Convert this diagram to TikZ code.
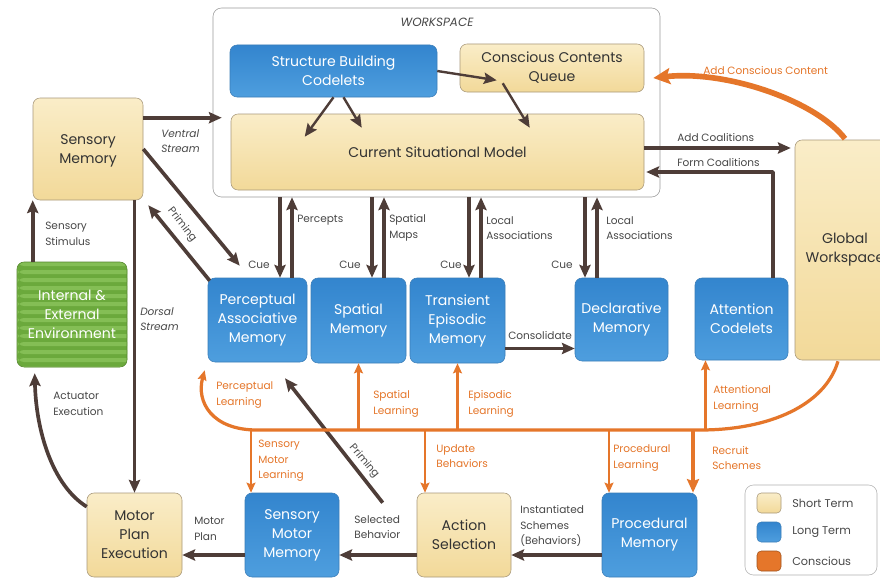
\documentclass[tikz,border=0pt]{standalone}
\usepackage{fontspec}
\setmainfont{Poppins}
\usetikzlibrary{arrows.meta,calc}

\definecolor{arrowC}{HTML}{4E3D38}
\definecolor{orangeC}{HTML}{E5762A}
\definecolor{tanL}{HTML}{FAEDC8}
\definecolor{tanD}{HTML}{F2D999}
\definecolor{tanB}{HTML}{A8987A}
\definecolor{blueL}{HTML}{4E9EDE}
\definecolor{blueD}{HTML}{3385CE}
\definecolor{blueB}{HTML}{3A7DB8}
\definecolor{greenL}{HTML}{84BE55}
\definecolor{greenD}{HTML}{6BA93C}
\definecolor{textC}{HTML}{484848}

\def\px{0.025cm}
\newcommand\boxfont{\fontsize{10}{13.5}\selectfont}
\newcommand\lblfont{\fontsize{7.5}{11}\selectfont}

\tikzset{
	sz/.style 2 args={minimum width=#1*\px,minimum height=#2*\px},
	stm/.style={draw=tanB,top color=tanL,bottom color=tanD,rounded corners=5pt,
		text=black!80,font=\boxfont,align=center,inner sep=0pt},
	ltm/.style={draw=blueB,top color=blueD,bottom color=blueL,rounded corners=5pt,
		text=white,font=\boxfont,align=center,inner sep=0pt},
	arr/.style={draw=arrowC,line width=2.6pt,-{Stealth[length=3.2mm,width=2.8mm,inset=0.5mm]}},
	arrs/.style={arr,line width=1.7pt},
	oarr/.style={draw=orangeC,line width=1.6pt,-{Stealth[length=2.5mm,width=2.2mm,inset=0.4mm]}},
	lbl/.style={font=\lblfont,text=textC,align=left,anchor=west,inner sep=0pt},
	olbl/.style={lbl,text=orangeC}
}

\begin{document}
\begin{tikzpicture}[x=\px,y=-\px,join=round]
	\useasboundingbox[fill=white] (0,0) rectangle (880,578);
	\clip (0,0) rectangle (880,578);
	% workspace
	\node[draw=black!40,fill=white,rounded corners=6pt,sz={447}{189}] (ws) at (436.5,102.5) {};
	\node[font=\fontsize{8.5}{10}\selectfont\itshape,text=textC] (wsT) at (437,22) {WORKSPACE};
	\node[ltm,sz={207}{52}] (sbc) at (333.5,71) {Structure Building\\Codelets};
	\node[stm,sz={184}{48}] (ccq) at (552,68) {Conscious Contents\\Queue};
	\node[stm,sz={413}{76}] (csm) at (437.5,152) {Current Situational Model};
	% modules
	\node[stm,sz={110}{102}] (sm) at (88,149) {\\[-4pt]Sensory\\Memory};
	\node[draw=greenD!80!black,fill=greenD,rounded corners=5pt,sz={110}{105},text=white,
		font=\boxfont,align=center,inner sep=0pt,
		path picture={\foreach \k in {0,...,14}
			\fill[greenL] ($(path picture bounding box.north west)+(0,\k*8)$) rectangle ++(120,4);}]
		(env) at (72,314.5) {Internal \&\\External\\Environment};
	\node[ltm,sz={99}{84}] (pam) at (257.5,320) {Perceptual\\Associative\\Memory};
	\node[ltm,sz={95}{85}] (spm) at (358.5,320.5) {Spatial\\Memory};
	\node[ltm,sz={95}{85}] (tem) at (457.5,320.5) {Transient\\Episodic\\Memory};
	\node[ltm,sz={93}{83}] (dm) at (621.5,319.5) {Declarative\\Memory};
	\node[ltm,sz={93}{82}] (ac) at (741.5,319) {Attention\\Codelets};
	\node[stm,sz={100}{220}] (gw) at (845,250) {Global\\Workspace};
	\node[stm,sz={95}{84}] (mpe) at (134.5,535) {Motor\\Plan\\Execution};
	\node[ltm,sz={94}{84}] (smm) at (292,535) {Sensory\\Motor\\Memory};
	\node[stm,sz={94}{84}] (as) at (464,535) {Action\\Selection};
	\node[ltm,sz={95}{84}] (pm) at (649.5,535) {Procedural\\Memory};
	% inside the workspace
	\draw[arrs] (sbc.east) -- ($(ccq.south west)+(37,-12)$);
	\draw[arrs] (sbc.south) -- ($(csm.north west)+(74,23)$);
	\draw[arrs] ($(sbc.south)+(10,0)$) -- ($(csm.north west)+(131,14)$);
	\draw[arrs] ($(ccq.south west)+(43,-9)$) -- ($(csm.north west)+(299,14)$);
	% sensory side
	\draw[arr] ($(sm.north east)+(0,20)$) coordinate (v0) -- ($(v0 -| ws.west)+(9,0)$);
	\draw[arr] (sm.east) -- ($(pam.north west)+(32,-12)$);
	\draw[arr] ($(pam.north west)+(2,3)$) -- ($(sm.south east)+(5,5)$);
	\draw[arr] (mpe.north |- sm.south) -- (mpe.north);
	\draw[arr] (env.north -| sm.south west) -- (sm.south west);
	\draw[arr] ($(mpe.north west)+(0,14)$) .. controls (52,485) and (36,430) .. ($(env.south west)+(18,6)$);
	% cues and retrievals
	\foreach \m/\a/\b in {pam/22.5/34.5,spm/13.5/25.5,tem/11.5/23.5,dm/-36.5/-24.5}{
		\draw[arr] ($(\m.north)+(\a,0)$) coordinate (c\m) (c\m |- ws.south) -- (c\m);
		\draw[arr] ($(\m.north)+(\b,0)$) coordinate (r\m) -- (r\m |- ws.south);
	}
	\draw[arrs] ($(tem.east)+(0,28)$) coordinate (v1) -- (v1 -| dm.west);
	% coalitions
	\draw[arr] ($(csm.east)+(0,-4)$) coordinate (v2) -- ($(v2 -| gw.west)+(-4,0)$);
	\draw[arr] ($(ac.north)+(31.5,0)$) |- ($(csm.east)+(2,20)$);
	\draw[draw=orangeC,line width=4pt,-{Stealth[length=4.2mm,width=4mm,inset=0.8mm]}]
		($(gw.north)+(0,-1)$) .. controls (815,100) and (725,70) .. ($(ccq.east)+(9,10)$);
	% action side
	\draw[arr] ($(smm.west)+(0,20)$) coordinate (v3) -- (v3 -| mpe.east);
	\draw[arr] ($(as.west)+(0,20)$) coordinate (v4) -- (v4 -| smm.east);
	\draw[arr] ($(pm.west)+(0,20)$) coordinate (v5) -- (v5 -| as.east);
	\draw[arr] ($(as.north west)+(-34,10)$) -- ($(pam.south)+(27.5,16)$);
	% conscious broadcast
	\coordinate (busL) at (257,430);
	\coordinate (busR) at (700,430);
	\draw[oarr,line width=2.3pt] ($(gw.south)+(-7,1)$) .. controls (825,405) and (770,430) .. (busR)
		-- (busL) .. controls (212,430) and (196,402) .. ($(pam.south west)+(-3,8)$);
	\draw[oarr] (spm.south |- busL) -- (spm.south);
	\draw[oarr] (tem.south |- busL) -- (tem.south);
	\draw[oarr] ($(ac.south)+(-36,0)$) coordinate (v6) (v6 |- busL) -- (v6);
	\draw[oarr] ($(smm.north)+(-41,0)$) coordinate (v7) (v7 |- busL) -- (v7);
	\draw[oarr] ($(as.north)+(-39,0)$) coordinate (v8) (v8 |- busL) -- (v8);
	\draw[oarr] ($(pm.north)+(-40.5,0)$) coordinate (v9) (v9 |- busL) -- (v9);
	\draw[oarr,line width=2.8pt,-{Stealth[length=3.4mm,width=3mm,inset=0.5mm]}]
		($(pm.north)+(43.5,0)$) coordinate (v10) (v10 |- busL) -- (v10);
	% labels
	\node[lbl,font=\lblfont\itshape] (lVentral) at (161,141) {Ventral\\Stream};
	\node[lbl,font=\lblfont\itshape] (lDorsal) at (140,319) {Dorsal\\Stream};
	\node[lbl] (lStimulus) at (45,234) {Sensory\\Stimulus};
	\node[lbl] (lActuator) at (53,404) {Actuator\\Execution};
	\node[lbl,anchor=center,rotate=-52] (lPrimA) at (182,225) {Priming};
	\node[lbl,anchor=center,rotate=-50] (lPrimB) at (364,461) {Priming};
	\node[lbl] (lPercepts) at (297,220) {Percepts};
	\node[lbl] (lSpatMaps) at (389,228) {Spatial\\Maps};
	\node[lbl] (lLocalA) at (486,228) {Local\\Associations};
	\node[lbl] (lLocalB) at (606,228) {Local\\Associations};
	\foreach \x [count=\i] in {248,339,440,551}
		\node[lbl] (lCue\i) at (\x,265) {Cue};
	\node[lbl] (lConsol) at (508,336) {Consolidate};
	\node[lbl] (lAddCoal) at (677,138) {Add Coalitions};
	\node[lbl] (lFormCoal) at (677,163) {Form Coalitions};
	\node[olbl] (lAddCC) at (703,71) {Add Conscious Content};
	\node[lbl] (lMotorPlan) at (194,529) {Motor\\Plan};
	\node[lbl] (lSelected) at (354,527) {Selected\\Behavior};
	\node[lbl] (lInstant) at (520,526) {Instantiated\\Schemes\\(Behaviors)};
	\node[olbl] (lPercL) at (216,395) {Perceptual\\Learning};
	\node[olbl] (lSpatL) at (373,404) {Spatial\\Learning};
	\node[olbl] (lEpiL) at (468,404) {Episodic\\Learning};
	\node[olbl] (lAttL) at (713,399) {Attentional\\Learning};
	\node[olbl] (lSMLearn) at (258,461) {Sensory\\Motor\\Learning};
	\node[olbl] (lUpdate) at (436,456) {Update\\Behaviors};
	\node[olbl] (lProcL) at (613,458) {Procedural\\Learning};
	\node[olbl] (lRecruit) at (712,458) {Recruit\\Schemes};
	% legend
	\node[draw=black!30,fill=white,rounded corners=6pt,sz={132}{90}] (legend) at (811,530) {};
	\foreach \y/\s/\t [count=\i] in {503/stm/Short Term,532/ltm/Long Term,561/oleg/Conscious}{
		\ifnum\i=3
			\node[draw=orangeC!70!black,fill=orangeC,rounded corners=3pt,sz={24}{20}] (sw\i) at (769,\y) {};
		\else
			\node[\s,sz={24}{20},rounded corners=3pt] (sw\i) at (769,\y) {};
		\fi
		\node[lbl,font=\fontsize{8}{10}\selectfont] (lg\i) at (792,\y) {\t};
	}
\end{tikzpicture}
\end{document}
